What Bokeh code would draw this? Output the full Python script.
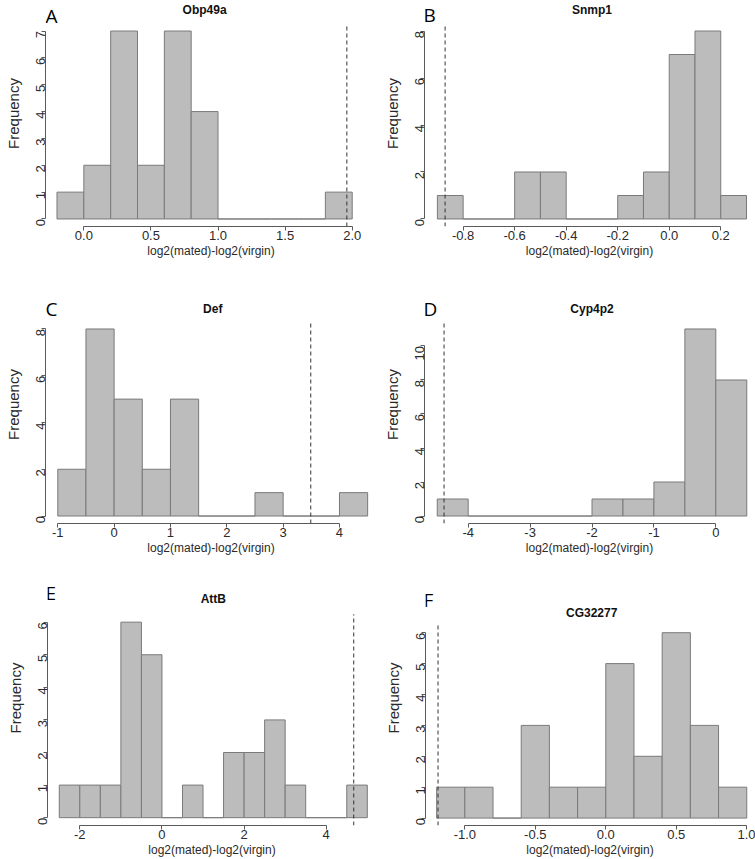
import math
from bokeh.plotting import figure
from bokeh.models import FixedTicker, Label, Range1d
from bokeh.layouts import column, row
from bokeh.embed import file_html
from bokeh.resources import INLINE

# ---------------- data ----------------
obp49a_breaks = [-0.2, 0.0, 0.2, 0.4, 0.6, 0.8, 1.0, 1.2, 1.4, 1.6, 1.8, 2.0]
obp49a_counts = [1, 2, 7, 2, 7, 4, 0, 0, 0, 0, 1]
obp49a_obs = 1.96
obp49a_xticks = [0.0, 0.5, 1.0, 1.5, 2.0]
obp49a_xlabels = ["0.0", "0.5", "1.0", "1.5", "2.0"]
obp49a_yticks = [0, 1, 2, 3, 4, 5, 6, 7]

snmp1_breaks = [-0.9, -0.8, -0.7, -0.6, -0.5, -0.4, -0.3, -0.2, -0.1, 0.0, 0.1, 0.2, 0.3]
snmp1_counts = [1, 0, 0, 2, 2, 0, 0, 1, 2, 7, 8, 1]
snmp1_obs = -0.87
snmp1_xticks = [-0.8, -0.6, -0.4, -0.2, 0.0, 0.2]
snmp1_xlabels = ["-0.8", "-0.6", "-0.4", "-0.2", "0.0", "0.2"]
snmp1_yticks = [0, 2, 4, 6, 8]

def_breaks = [-1.0, -0.5, 0.0, 0.5, 1.0, 1.5, 2.0, 2.5, 3.0, 3.5, 4.0, 4.5]
def_counts = [2, 8, 5, 2, 5, 0, 0, 1, 0, 0, 1]
def_obs = 3.49
def_xticks = [-1, 0, 1, 2, 3, 4]
def_xlabels = ["-1", "0", "1", "2", "3", "4"]
def_yticks = [0, 2, 4, 6, 8]

cyp4p2_breaks = [-4.5, -4.0, -3.5, -3.0, -2.5, -2.0, -1.5, -1.0, -0.5, 0.0, 0.5]
cyp4p2_counts = [1, 0, 0, 0, 0, 1, 1, 2, 11, 8]
cyp4p2_obs = -4.39
cyp4p2_xticks = [-4, -3, -2, -1, 0]
cyp4p2_xlabels = ["-4", "-3", "-2", "-1", "0"]
cyp4p2_yticks = [0, 2, 4, 6, 8, 10]

attb_breaks = [-2.5, -2.0, -1.5, -1.0, -0.5, 0.0, 0.5, 1.0, 1.5, 2.0, 2.5, 3.0, 3.5, 4.0, 4.5, 5.0]
attb_counts = [1, 1, 1, 6, 5, 0, 1, 0, 2, 2, 3, 1, 0, 0, 1]
attb_obs = 4.67
attb_xticks = [-2, 0, 2, 4]
attb_xlabels = ["-2", "0", "2", "4"]
attb_yticks = [0, 1, 2, 3, 4, 5, 6]

cg32277_breaks = [-1.2, -1.0, -0.8, -0.6, -0.4, -0.2, 0.0, 0.2, 0.4, 0.6, 0.8, 1.0]
cg32277_counts = [1, 1, 0, 3, 1, 1, 5, 2, 6, 3, 1]
cg32277_obs = -1.19
cg32277_xticks = [-1.0, -0.5, 0.0, 0.5, 1.0]
cg32277_xlabels = ["-1.0", "-0.5", "0.0", "0.5", "1.0"]
cg32277_yticks = [0, 1, 2, 3, 4, 5, 6]

XLABEL = "log2(mated)-log2(virgin)"
YLABEL = "Frequency"

# ---------------- styling ----------------
FONT = "Liberation Sans"
FILL = "#BBBCBB"
EDGE = "#7A7A7A"
AXIS = "#5A5A5A"
TEXT = "#2A2A2A"


def panel(title, letter, breaks, counts, obs, xticks, xlabels, yticks,
          xlim, width, height, mbl, mbr, mbb, plot_top,
          letter_dx, letter_dy, title_dy):
    ymax = max(counts)
    frame_h = height - mbb
    plot_h = frame_h - plot_top          # height of the R-style plot region
    ppu = plot_h / (1.08 * ymax)         # pixels per count
    lo = -0.04 * ymax
    hi = lo + frame_h / ppu              # frame extends up to hold the titles
    p = figure(width=width, height=height, output_backend="svg",
               toolbar_location=None,
               x_range=Range1d(*xlim), y_range=Range1d(lo, hi),
               min_border_left=mbl, min_border_right=mbr,
               min_border_top=0, min_border_bottom=mbb)
    p.outline_line_color = None
    p.grid.visible = False
    p.background_fill_color = "white"
    p.border_fill_color = "white"

    p.quad(left=breaks[:-1], right=breaks[1:], bottom=0, top=counts,
           fill_color=FILL, line_color=EDGE, line_width=1)

    p.segment(x0=[obs], y0=[lo], x1=[obs], y1=[1.04 * ymax],
              line_color="#333333", line_width=1, line_dash="4 3")

    xa = p.xaxis[0]
    xa.ticker = FixedTicker(ticks=xticks)
    xa.major_label_overrides = {t: l for t, l in zip(xticks, xlabels)}
    xa.bounds = (xticks[0], xticks[-1])
    xa.axis_label = XLABEL
    ya = p.yaxis[0]
    ya.ticker = FixedTicker(ticks=yticks)
    ya.major_label_overrides = {t: str(t) for t in yticks}
    ya.bounds = (yticks[0], yticks[-1])
    ya.axis_label = YLABEL
    ya.major_label_orientation = math.pi / 2

    for ax in (xa, ya):
        ax.axis_line_color = AXIS
        ax.major_tick_line_color = AXIS
        ax.minor_tick_line_color = None
        ax.major_tick_in = 0
        ax.major_tick_out = 4
        ax.major_label_text_font = FONT
        ax.major_label_text_font_size = "13px"
        ax.major_label_text_color = TEXT
        ax.axis_label_text_font = FONT
        ax.axis_label_text_font_style = "normal"
        ax.axis_label_text_color = TEXT
    xa.major_label_standoff = 0
    xa.axis_label_standoff = 1
    xa.axis_label_text_font_size = "12px"
    ya.major_label_standoff = 1
    ya.axis_label_standoff = 7
    ya.axis_label_text_font_size = "15px"

    p.add_layout(Label(x=(breaks[0] + breaks[-1]) / 2, x_units="data",
                       y=plot_h + title_dy, y_units="screen", text=title,
                       text_align="center", text_baseline="middle",
                       text_font=FONT, text_font_style="bold",
                       text_font_size="12px", text_color="#111111"))
    p.add_layout(Label(x=letter_dx, x_units="screen",
                       y=plot_h + letter_dy, y_units="screen", text=letter,
                       text_align="left", text_baseline="alphabetic",
                       text_font="Open Sans", text_font_size="19px",
                       text_color="#000000"))
    return p


LW, RW = 377, 378
pA = panel("Obp49a", "A", obp49a_breaks, obp49a_counts, obp49a_obs,
           obp49a_xticks, obp49a_xlabels, obp49a_yticks,
           (-0.2857, 2.181), LW, 285, 45, 1, 59, 23, 0, 8, 14)
pB = panel("Snmp1", "B", snmp1_breaks, snmp1_counts, snmp1_obs,
           snmp1_xticks, snmp1_xlabels, snmp1_yticks,
           (-0.950, 0.331), RW, 285, 47, 1, 59, 23, -1, 9, 14)
pC = panel("Def", "C", def_breaks, def_counts, def_obs,
           def_xticks, def_xlabels, def_yticks,
           (-1.218, 4.657), LW, 285, 45, 1, 47, 36, 0, 13, 13)
pD = panel("Cyp4p2", "D", cyp4p2_breaks, cyp4p2_counts, cyp4p2_obs,
           cyp4p2_xticks, cyp4p2_xlabels, cyp4p2_yticks,
           (-4.706, 0.625), RW, 285, 47, 1, 47, 36, -1, 13, 13)
pE = panel("AttB", "E", attb_breaks, attb_counts, attb_obs,
           attb_xticks, attb_xlabels, attb_yticks,
           (-2.787, 5.224), LW, 289, 47, 1, 33, 44, -2, 21, 14.6)
pF = panel("CG32277", "F", cg32277_breaks, cg32277_counts, cg32277_obs,
           cg32277_xticks, cg32277_xlabels, cg32277_yticks,
           (-1.279, 1.055), RW, 289, 48, 1, 33, 55, -2, 25, 11.5)

layout = column(row(pA, pB), row(pC, pD), row(pE, pF))
open("out.html", "w").write(file_html(layout, INLINE))
